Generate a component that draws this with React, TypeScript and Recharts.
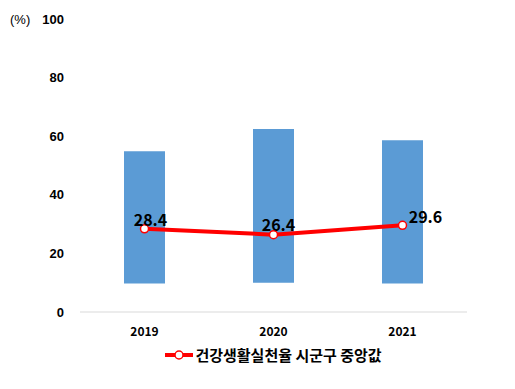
import {
  ComposedChart,
  Bar,
  Line,
  XAxis,
  YAxis,
  Legend,
  LabelList,
} from "recharts";

const years = ["2019", "2020", "2021"];
const rangeLow = [9.7, 10.0, 9.7];
const rangeHigh = [54.9, 62.5, 58.6];
const medians = [28.4, 26.4, 29.6];
const yTicks = [0, 20, 40, 60, 80, 100];
const seriesName = "건강생활실천율 시군구 중앙값";

const data = years.map((year, i) => ({
  year,
  range: [rangeLow[i], rangeHigh[i]],
  median: medians[i],
}));

// label nudges per point
const labelOffsets = [
  { dx: 6, dy: -10 },
  { dx: 5, dy: -11 },
  { dx: 23, dy: -9 },
];

const font = "'Noto Sans CJK KR', 'Noto Sans', sans-serif";

const renderValueLabel = (props: any) => {
  const { x, y, value, index } = props;
  const off = labelOffsets[index] || { dx: 0, dy: -10 };
  return (
    <text
      x={x + off.dx}
      y={y + off.dy}
      textAnchor="middle"
      dominantBaseline="central"
      fontFamily={font}
      fontWeight="bold"
      fontSize={16}
      fill="#000"
    >
      {value}
    </text>
  );
};

const renderLegend = () => (
  <div
    style={{
      display: "flex",
      justifyContent: "center",
      alignItems: "center",
      paddingTop: 2,
      paddingLeft: 32,
      fontFamily: font,
      fontSize: 15,
      fontWeight: 600,
      color: "#000",
    }}
  >
    <svg width={28} height={12} style={{ marginRight: 2 }}>
      <line x1={0} y1={6} x2={28} y2={6} stroke="#ff0000" strokeWidth={4} />
      <circle cx={14} cy={6} r={4} fill="#fff" stroke="#ff0000" strokeWidth={1.5} />
    </svg>
    <span>{seriesName}</span>
  </div>
);

const renderUnit = (props: any) => {
  const { viewBox } = props;
  return (
    <text
      x={viewBox.x + 10}
      y={viewBox.y}
      dominantBaseline="central"
      fontFamily="'Liberation Sans', Arial, sans-serif"
      fontSize={13}
      fill="#000"
    >
      (%)
    </text>
  );
};

export default function App() {
  return (
    <div
      style={{
        position: "absolute",
        left: 0,
        top: 0,
        width: 515,
        height: 389,
        background: "#fff",
      }}
    >
      <ComposedChart
        width={515}
        height={389}
        data={data}
        margin={{ top: 19, right: 48, bottom: 17, left: 0 }}
      >
        <XAxis
          dataKey="year"
          height={30}
          tickLine={false}
          axisLine={{ stroke: "#d9d9d9", strokeWidth: 1 }}
          tick={{ fill: "#000", fontSize: 12, fontWeight: "bold", fontFamily: font }}
          tickMargin={9}
        />
        <YAxis
          width={80}
          domain={[0, 100]}
          ticks={yTicks}
          axisLine={false}
          tickLine={false}
          tickSize={6}
          tickMargin={10}
          tick={{
            fill: "#000",
            fontSize: 13,
            fontWeight: "bold",
            fontFamily: "'Liberation Sans', Arial, sans-serif",
          }}
          label={{ content: renderUnit }}
        />
        <Legend
          verticalAlign="bottom"
          height={30}
          content={renderLegend}
          wrapperStyle={{ left: 0, width: 515 }}
        />
        <Bar
          dataKey="range"
          fill="#5b9bd5"
          barSize={41}
          isAnimationActive={false}
          legendType="none"
        />
        <Line
          dataKey="median"
          name={seriesName}
          stroke="#ff0000"
          strokeWidth={4}
          dot={{ r: 4, fill: "#fff", stroke: "#ff0000", strokeWidth: 1.5 }}
          activeDot={false}
          isAnimationActive={false}
        >
          <LabelList dataKey="median" content={renderValueLabel} />
        </Line>
      </ComposedChart>
    </div>
  );
}
